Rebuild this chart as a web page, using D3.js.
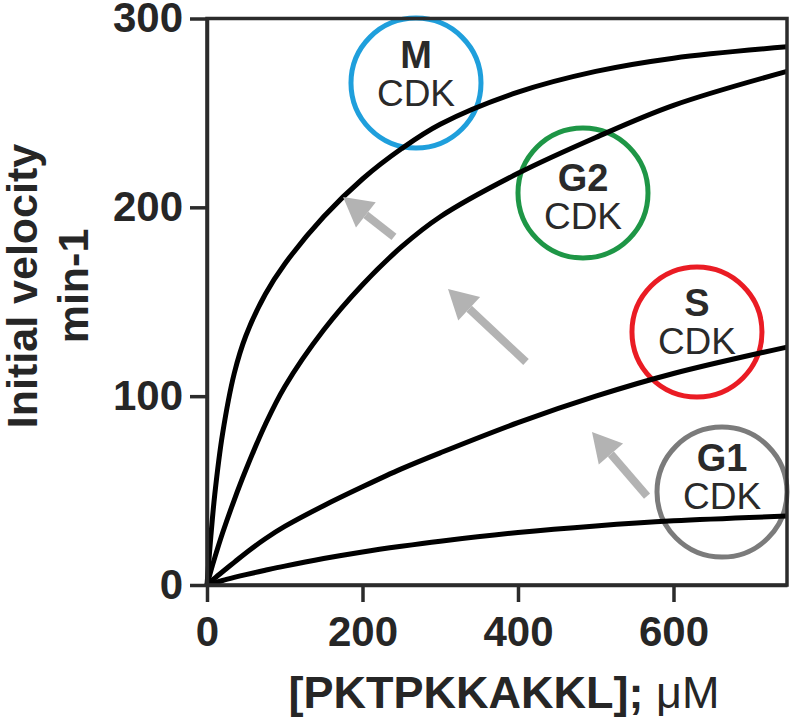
<!DOCTYPE html>
<html>
<head>
<meta charset="utf-8">
<script src="https://cdn.jsdelivr.net/npm/d3@7/dist/d3.min.js"></script>
<style>
    body { margin: 0; background: #fff; }
    text { font-family: "Liberation Sans", Arial, sans-serif; }
</style>
</head>
<body>
<div id="chart"></div>
<script>
// substrate concentration (uM) and initial velocity (min-1)
var substrate  = [0, 5, 10, 20, 35, 50, 75, 100, 150, 200, 250, 300, 400, 500, 600, 746];
var velocityM  = [0, 26, 48, 80, 112, 132, 154, 170, 195, 215, 231, 244, 261, 272, 279, 285];
var velocityG2 = [0, 7.5, 14.5, 27.5, 45, 61, 85, 105, 135, 159, 179, 195, 218, 237, 254, 272];
var velocityS  = [0, 1.8, 3.6, 7, 12, 17, 24.5, 31, 42, 52, 61.5, 70, 86, 100, 112, 126];
var velocityG1 = [0, 0.6, 1.2, 2.4, 4, 5.5, 7.8, 10, 14, 17.5, 20.5, 23.2, 27.8, 31.3, 34, 36.5];

var xTicks = [0, 200, 400, 600];
var yTicks = [0, 100, 200, 300];
var xMax = 746;
var yMax = 300;

// CDK labels: phase, circle colour, circle centre in data units
var phases  = ['M', 'G2', 'S', 'G1'];
var phaseColors = ['#1f9fdc', '#1e9646', '#ea1c24', '#7b7b7b'];
var phaseX  = [268.8, 483.6, 630.2, 662.4];
var phaseY  = [265.8, 207.6, 134, 49.2];
var labelShift = [3.5, 17.5, 3.5, -2];

// grey arrows, tail -> tip in data units
var arrowTail = [[240.5, 184.3], [410.3, 118.1], [566, 47.1]];
var arrowTip  = [[175, 205.5], [310, 156.8], [495.2, 81]];

function drawChart() {
    var width = 794, height = 722;
    var plotLeft = 207, plotRight = 787, plotTop = 18.5, plotBottom = 585;
    var axisColor = '#2b2b2b';

    var svg = d3.select('#chart').append('svg')
        .attr('width', width).attr('height', height);

    var x = d3.scaleLinear().domain([0, xMax]).range([plotLeft, plotRight]);
    var y = d3.scaleLinear().domain([0, yMax]).range([plotBottom, plotTop]);

    // CDK circles
    var circles = svg.selectAll('.phase')
        .data(phases)
        .enter().append('g')
        .attr('class', 'phase');

    circles.append('circle')
        .attr('cx', function(d, i) { return x(phaseX[i]); })
        .attr('cy', function(d, i) { return y(phaseY[i]); })
        .attr('r', 65)
        .attr('fill', 'none')
        .attr('stroke', function(d, i) { return phaseColors[i]; })
        .attr('stroke-width', 5);

    // curves
    var line = d3.line()
        .x(function(d) { return x(d[0]); })
        .y(function(d) { return y(d[1]); })
        .curve(d3.curveCatmullRom.alpha(0.5));

    [velocityM, velocityG2, velocityS, velocityG1].forEach(function(v) {
        svg.append('path')
            .datum(d3.zip(substrate, v))
            .attr('fill', 'none')
            .attr('stroke', '#000')
            .attr('stroke-width', 5)
            .attr('d', line);
    });

    // arrows
    arrowTail.forEach(function(t, i) {
        var x1 = x(t[0]), y1 = y(t[1]);
        var x2 = x(arrowTip[i][0]), y2 = y(arrowTip[i][1]);
        var ang = Math.atan2(y2 - y1, x2 - x1);
        var headLen = 29, headHalf = 16;
        var bx = x2 - headLen * Math.cos(ang), by = y2 - headLen * Math.sin(ang);
        svg.append('line')
            .attr('x1', x1).attr('y1', y1)
            .attr('x2', bx).attr('y2', by)
            .attr('stroke', '#b3b3b3')
            .attr('stroke-width', 8);
        var px = -Math.sin(ang), py = Math.cos(ang);
        svg.append('path')
            .attr('d', 'M' + x2 + ',' + y2 +
                'L' + (bx + px * headHalf) + ',' + (by + py * headHalf) +
                'L' + (bx - px * headHalf) + ',' + (by - py * headHalf) + 'Z')
            .attr('fill', '#b3b3b3');
    });

    // circle text
    circles.append('text')
        .attr('x', function(d, i) { return x(phaseX[i]); })
        .attr('y', function(d, i) { return y(phaseY[i]) + labelShift[i] - 19; })
        .attr('text-anchor', 'middle')
        .attr('font-size', 38)
        .attr('font-weight', 'bold')
        .attr('fill', '#2a2a2a')
        .text(function(d) { return d; });

    circles.append('text')
        .attr('x', function(d, i) { return x(phaseX[i]); })
        .attr('y', function(d, i) { return y(phaseY[i]) + labelShift[i] + 19; })
        .attr('text-anchor', 'middle')
        .attr('font-size', 37)
        .attr('fill', '#2a2a2a')
        .text('CDK');

    // frame
    svg.append('rect')
        .attr('x', plotLeft).attr('y', plotTop)
        .attr('width', plotRight - plotLeft).attr('height', plotBottom - plotTop)
        .attr('fill', 'none')
        .attr('stroke', axisColor)
        .attr('stroke-width', 3.5);

    var xAxis = d3.axisBottom(x).tickValues(xTicks).tickSize(17).tickSizeOuter(0).tickPadding(14);
    var yAxis = d3.axisLeft(y).tickValues(yTicks).tickSize(17).tickSizeOuter(0).tickPadding(7);

    var gx = svg.append('g')
        .attr('transform', 'translate(0,' + plotBottom + ')')
        .call(xAxis);
    var gy = svg.append('g')
        .attr('transform', 'translate(' + plotLeft + ',0)')
        .call(yAxis);

    [gx, gy].forEach(function(g) {
        g.attr('font-family', null).attr('font-size', null);
        g.select('.domain').attr('stroke', axisColor).attr('stroke-width', 3.5);
        g.selectAll('.tick line').attr('stroke', axisColor).attr('stroke-width', 3.5);
        g.selectAll('.tick text')
            .attr('fill', '#262626')
            .style('font-size', '42px')
            .style('font-weight', 'bold');
    });

    // axis titles
    var xTitle = svg.append('text')
        .attr('x', 504)
        .attr('y', 708)
        .attr('text-anchor', 'middle')
        .attr('font-size', 45)
        .attr('fill', '#262626');
    xTitle.append('tspan').attr('font-weight', 'bold').text('[PKTPKKAKKL];');
    xTitle.append('tspan').text(' \u03bcM');

    var yTitle = svg.append('text')
        .attr('transform', 'translate(37,286) rotate(-90)')
        .attr('text-anchor', 'middle')
        .attr('font-size', 43)
        .attr('font-weight', 'bold')
        .attr('fill', '#262626');
    yTitle.append('tspan').attr('x', 0).attr('y', 0).text('Initial velocity');
    yTitle.append('tspan').attr('x', 0).attr('y', 51).text('min-1');
}

drawChart();
</script>
</body>
</html>
